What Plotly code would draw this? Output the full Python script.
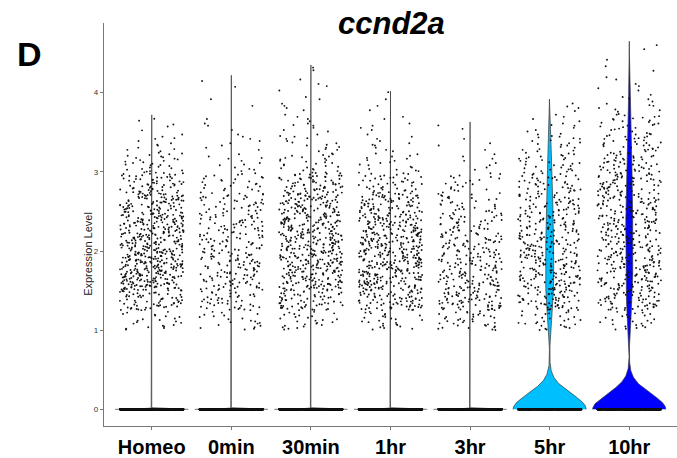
import numpy as np
import plotly.graph_objects as go

# ---------------- data ----------------
groups = ["Homeo", "0min", "30min", "1hr", "3hr", "5hr", "10hr"]
bin_lower = [1.0, 1.25, 1.5, 1.75, 2.0, 2.25, 2.5, 2.75, 3.0, 3.25, 3.5, 3.75, 4.0, 4.25, 4.5]
bin_width = 0.25
counts_homeo = [22, 60, 110, 115, 100, 95, 80, 55, 28, 12, 5, 0, 0, 0, 0]
counts_0min = [20, 40, 50, 50, 45, 42, 38, 25, 12, 8, 4, 2, 2, 0, 0]
counts_30min = [25, 60, 85, 90, 90, 85, 80, 60, 25, 15, 10, 6, 4, 2, 0]
counts_1hr = [25, 70, 95, 100, 95, 85, 70, 40, 18, 10, 6, 3, 1, 0, 0]
counts_3hr = [35, 65, 60, 55, 50, 40, 30, 20, 8, 4, 2, 0, 0, 0, 0]
counts_5hr = [28, 60, 65, 62, 60, 55, 48, 40, 30, 20, 10, 4, 0, 0, 0]
counts_10hr = [25, 55, 62, 62, 62, 60, 58, 55, 45, 35, 25, 12, 6, 3, 2]
max_expr = [3.72, 4.22, 4.35, 4.02, 3.63, 3.92, 4.65]
zero_counts = [1500, 1500, 1500, 1500, 1500, 1100, 1250]
bandwidths = [0.006, 0.006, 0.006, 0.006, 0.006, 0.195, 0.195]
fill_colors = ["#BEBEBE", "#BEBEBE", "#BEBEBE", "#BEBEBE", "#BEBEBE", "#00BFFF", "#0000FF"]
y_ticks = [0, 1, 2, 3, 4]

all_counts = [counts_homeo, counts_0min, counts_30min, counts_1hr,
              counts_3hr, counts_5hr, counts_10hr]

# --------------- helpers ---------------
def vdc(i, base=2):
    v, denom = 0.0, 1.0
    while i:
        denom *= base
        i, r = divmod(i, base)
        v += r / denom
    return v

def expand(counts, vmax):
    vals = []
    for lo, c in zip(bin_lower, counts):
        hi = min(lo + bin_width, vmax)
        for i in range(c):
            vals.append(lo + (hi - lo) * vdc(i + 1, 3))
    return np.array(vals)

def jitter(n, seed):
    # deterministic hash-based horizontal jitter (display only)
    k = np.arange(n) + 1 + seed * 7919
    return ((np.sin(k * 12.9898 + seed * 78.233) * 43758.5453) % 1.0 - 0.5) * 0.8

fig = go.Figure()
px_all, py_all = [], []
for gi, (g, counts) in enumerate(zip(groups, all_counts)):
    pos = gi + 1
    vals = expand(counts, max_expr[gi])
    n0 = zero_counts[gi]
    bw = bandwidths[gi]
    # violin (kernel density, trimmed to data range, scaled to width)
    grid = np.unique(np.concatenate([np.linspace(0, 0.12, 160),
                                     np.linspace(0.12, max_expr[gi], 500)]))
    dens = n0 * np.exp(-0.5 * (grid / bw) ** 2)
    dens = dens + np.exp(-0.5 * ((grid[:, None] - vals[None, :]) / bw) ** 2).sum(axis=1)
    hw = 0.46 * dens / dens.max()
    vx = np.concatenate([pos + hw, (pos - hw)[::-1]])
    vy = np.concatenate([grid, grid[::-1]])
    fig.add_trace(go.Scatter(x=vx, y=vy, mode="lines", fill="toself",
                             fillcolor=fill_colors[gi],
                             line=dict(color="#3a3a3a", width=0.7),
                             hoverinfo="skip", showlegend=False))
    # jittered points
    yv = np.concatenate([np.zeros(n0), vals])
    px_all.append(pos + jitter(len(yv), gi + 1))
    py_all.append(yv)

fig.add_trace(go.Scatter(x=np.concatenate(px_all), y=np.concatenate(py_all),
                         mode="markers",
                         marker=dict(color="#111111", size=1.9, line=dict(width=0)),
                         hoverinfo="skip", showlegend=False))

fig.update_layout(
    width=677, height=458,
    margin=dict(l=104, r=0, t=23, b=30),
    plot_bgcolor="white", paper_bgcolor="white",
    font=dict(family="Liberation Sans, Arial, sans-serif", color="black"),
    xaxis=dict(range=[0.4, 7.6], tickmode="array",
               tickvals=list(range(1, len(groups) + 1)), ticktext=groups,
               showline=True, linecolor="#777777", linewidth=1.3,
               ticks="outside", ticklen=3, tickcolor="#777777",
               showgrid=False, zeroline=False,
               tickfont=dict(size=20, color="black", weight="bold")),
    yaxis=dict(range=[-0.21, 4.88], tickmode="array", tickvals=y_ticks,
               showline=True, linecolor="#777777", linewidth=1.3,
               ticks="outside", ticklen=3, tickcolor="#777777",
               showgrid=False, zeroline=False,
               tickfont=dict(size=8, color="#333333")),
    annotations=[
        dict(text="<b><i>ccnd2a</i></b>", xref="paper", yref="paper",
             x=0.502, y=(428 - 24) / 405, xanchor="center", yanchor="middle",
             showarrow=False, font=dict(size=31, color="black")),
        dict(text="<b>D</b>", xref="paper", yref="paper",
             x=(29 - 104) / 573, y=(428 - 54) / 405, xanchor="center", yanchor="middle",
             showarrow=False, font=dict(size=34, color="black")),
        dict(text="Expression Level", xref="paper", yref="paper",
             x=(88 - 104) / 573, y=(428 - 255) / 405, xanchor="center", yanchor="middle",
             textangle=-90, showarrow=False, font=dict(size=11, color="#222222")),
    ],
)

fig.write_html("out.html")
